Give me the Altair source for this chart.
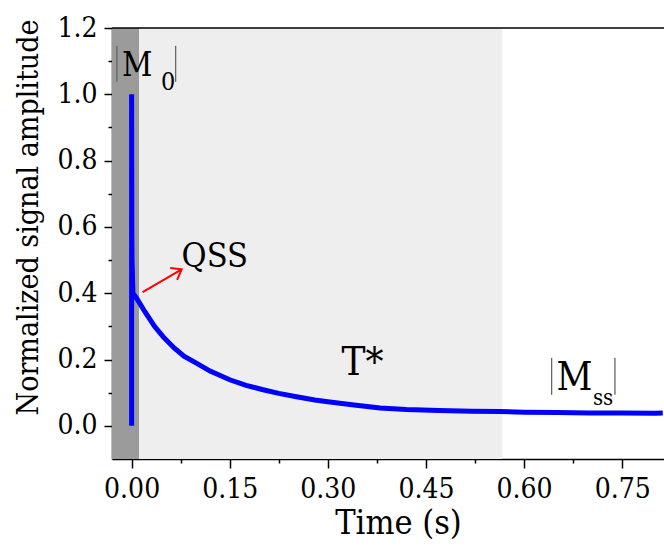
import altair as alt
import pandas as pd

# ---- data ----
time_s = [0.0, 0.0, 0.0003, 0.0006, 0.002, 0.0076, 0.02, 0.035, 0.048, 0.065, 0.08,
          0.099, 0.12, 0.15, 0.175, 0.201, 0.225, 0.252, 0.28, 0.303, 0.34, 0.38,
          0.42, 0.47, 0.52, 0.563, 0.60, 0.65, 0.70, 0.75, 0.80, 0.812]
amplitude = [0.0, 1.0, 0.6, 0.5, 0.40, 0.385, 0.345, 0.30, 0.269, 0.235, 0.21,
             0.189, 0.165, 0.139, 0.122, 0.109, 0.098, 0.088, 0.078, 0.072, 0.063, 0.054,
             0.049, 0.046, 0.044, 0.043, 0.041, 0.040, 0.039, 0.039, 0.038, 0.039]

band_start = [-0.03, 0.0116]
band_end = [0.0116, 0.5666]
band_fill = ["#9b9b9b", "#eeeeee"]

x_tick_values = [0.0, 0.075, 0.15, 0.225, 0.30, 0.375, 0.45, 0.525, 0.60, 0.675, 0.75]
y_tick_values = [0.0, 0.1, 0.2, 0.3, 0.4, 0.5, 0.6, 0.7, 0.8, 0.9, 1.0, 1.1, 1.2]

label_text = ["M", "0", "QSS", "T*", "M", "ss"]
label_x = [-0.0148, 0.0448, 0.0764, 0.321, 0.6497, 0.7052]
label_y = [1.056, 1.0136, 0.4805, 0.154, 0.1086, 0.0634]
label_size = [33, 25, 34, 40, 39, 22]

bar_x = [-0.0225, 0.0673, 0.6421, 0.7389]
bar_lo = [1.0377, 1.0377, 0.0935, 0.0935]
bar_hi = [1.1463, 1.1463, 0.2051, 0.2051]

arrow_x = [0.0168, 0.0765]
arrow_y = [0.4033, 0.472]

# ---- tables ----
line_df = pd.DataFrame({"t": time_s, "a": amplitude, "i": range(len(time_s))})
band_df = pd.DataFrame({"s": band_start, "e": band_end, "fill": band_fill,
                        "lo": [-0.1, -0.1], "hi": [1.2, 1.2]})
text_df = pd.DataFrame({"x": label_x, "y": label_y, "txt": label_text, "fs": label_size})
bar_df = pd.DataFrame({"x": bar_x, "lo": bar_lo, "hi": bar_hi})
arrow_df = pd.DataFrame({"x": arrow_x, "y": arrow_y, "i": [0, 1]})
tip_df = pd.DataFrame({"x": [arrow_x[1]], "y": [arrow_y[1]]})
top_df = pd.DataFrame({"y": [1.2]})

FONT = "DejaVu Serif Condensed, DejaVu Serif, serif"

x_scale = alt.Scale(domain=[-0.03, 0.8139], nice=False, zero=False)
y_scale = alt.Scale(domain=[-0.1, 1.2], nice=False, zero=False)

x_major = "abs(round(datum.value / 0.15) * 0.15 - datum.value) < 0.000001"
y_major = "abs(round(datum.value / 0.2) * 0.2 - datum.value) < 0.000001"

x_axis = alt.Axis(
    values=x_tick_values,
    labelExpr=f"({x_major}) ? format(datum.value, '.2f') : ''",
    tickSize={"condition": {"test": x_major, "value": 9}, "value": 4},
    labelPadding=7, labelFlush=False, labelOverlap=False, grid=False,
    title="Time (s)", titleX=286, titleY=74, titleAlign="center",
    titleBaseline="alphabetic", titleFontSize=34,
)
y_axis = alt.Axis(
    values=y_tick_values,
    labelExpr=f"({y_major}) ? format(datum.value, '.1f') : ''",
    tickSize={"condition": {"test": y_major, "value": 8}, "value": 4},
    labelPadding=7, labelFlush=False, labelOverlap=False, grid=False,
    title="Normalized signal amplitude", titleX=-75, titleY=189, titleAngle=270,
    titleAlign="center", titleBaseline="alphabetic", titleFontSize=30,
)


def X(f):
    return alt.X(f, type="quantitative", scale=x_scale, axis=x_axis)


def Y(f):
    return alt.Y(f, type="quantitative", scale=y_scale, axis=y_axis)


bands = alt.Chart(band_df).mark_rect(strokeWidth=0).encode(
    x=X("s"), x2="e", y=Y("lo"), y2="hi",
    color=alt.Color("fill:N", scale=None),
)

top = alt.Chart(top_df).mark_rule(color="black", strokeWidth=1.5).encode(y=Y("y"))

signal = alt.Chart(line_df).mark_line(color="#0000ff", strokeWidth=5, clip=True).encode(
    x=X("t"), y=Y("a"), order="i:Q",
)

bars = alt.Chart(bar_df).mark_rule(color="#666666", strokeWidth=1.3).encode(
    x=X("x"), y=Y("lo"), y2="hi",
)

labels = alt.Chart(text_df).mark_text(
    font=FONT, align="left", baseline="alphabetic", color="black",
).encode(x=X("x"), y=Y("y"), text="txt:N", size=alt.Size("fs:Q", scale=None))

arrow = alt.Chart(arrow_df).mark_line(color="#ff0000", strokeWidth=2).encode(
    x=X("x"), y=Y("y"), order="i:Q",
)

head = alt.Chart(tip_df).mark_point(
    shape="M -1 -0.75 L 0 0 L -1 0.75", size=340, angle=330, filled=False,
    color="#ff0000", strokeWidth=2, opacity=1,
).encode(x=X("x"), y=Y("y"))

chart = alt.layer(bands, top, signal, bars, labels, arrow, head).properties(
    width=552, height=431,
    padding={"left": 112, "top": 28, "right": 0, "bottom": 88},
    autosize=alt.AutoSizeParams(type="none"),
    background="white",
).configure_view(stroke=None).configure_axis(
    domainColor="black", domainWidth=1.5, tickColor="black", tickWidth=1.5,
    labelFont=FONT, labelFontSize=28, labelColor="black",
    titleFont=FONT, titleFontWeight="normal", titleColor="black",
)

chart.save("out.html", embed_options={"renderer": "svg", "actions": False})
